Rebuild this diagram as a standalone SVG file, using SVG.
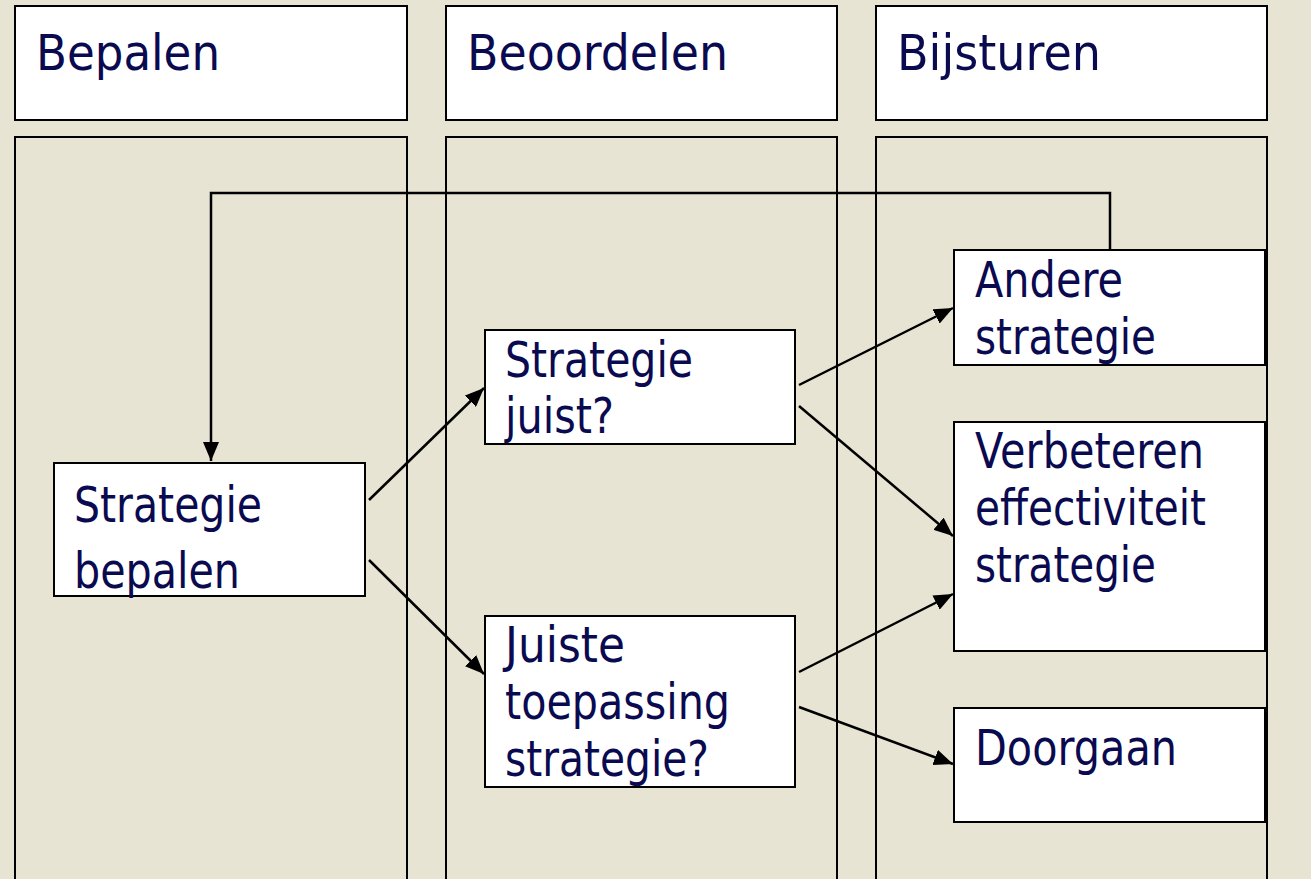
<svg xmlns="http://www.w3.org/2000/svg" width="1311" height="879" viewBox="0 0 1311 879">
<style>
.box{fill:#fff;stroke:#000;stroke-width:2}
.lane{fill:none;stroke:#000;stroke-width:2}
.t{font-family:"DejaVu Sans",Verdana,sans-serif;font-size:50px;fill:#0a0a50}
.c{fill:none;stroke:#000;stroke-width:2.5}
</style>
<defs>
<marker id="ah" markerUnits="userSpaceOnUse" markerWidth="20" markerHeight="16" refX="19" refY="8" orient="auto">
<path d="M0,0 L19,8 L0,16 Z" fill="#000"/>
</marker>
</defs>
<rect width="1311" height="879" fill="#e7e4d3"/>
<g id="lane-bepalen">
<rect class="box" x="15" y="6" width="392" height="114"/>
<text class="t" x="36" y="70" textLength="184" lengthAdjust="spacingAndGlyphs">Bepalen</text>
<rect class="lane" x="15" y="137" width="392" height="760"/>
</g>
<g id="lane-beoordelen">
<rect class="box" x="446" y="6" width="391" height="114"/>
<text class="t" x="467" y="70" textLength="261" lengthAdjust="spacingAndGlyphs">Beoordelen</text>
<rect class="lane" x="446" y="137" width="391" height="760"/>
</g>
<g id="lane-bijsturen">
<rect class="box" x="876" y="6" width="391" height="114"/>
<text class="t" x="897" y="70" textLength="204" lengthAdjust="spacingAndGlyphs">Bijsturen</text>
<rect class="lane" x="876" y="137" width="391" height="760"/>
</g>
<g id="connectors">
<path class="c" d="M1110,250 V193 H211 V461" marker-end="url(#ah)"/>
<line class="c" x1="369" y1="500" x2="484" y2="388" marker-end="url(#ah)"/>
<line class="c" x1="369" y1="560" x2="484" y2="674" marker-end="url(#ah)"/>
<line class="c" x1="799" y1="385" x2="953" y2="308" marker-end="url(#ah)"/>
<line class="c" x1="799" y1="406" x2="953" y2="536" marker-end="url(#ah)"/>
<line class="c" x1="799" y1="672" x2="953" y2="594" marker-end="url(#ah)"/>
<line class="c" x1="799" y1="707" x2="953" y2="764" marker-end="url(#ah)"/>
</g>
<g id="node-strategie-bepalen">
<rect class="box" x="54" y="463" width="311" height="133"/>
<text class="t" x="74" y="522" textLength="188" lengthAdjust="spacingAndGlyphs">Strategie</text>
<text class="t" x="74" y="588" textLength="166" lengthAdjust="spacingAndGlyphs">bepalen</text>
</g>
<g id="node-strategie-juist">
<rect class="box" x="485" y="330" width="310" height="114"/>
<text class="t" x="505" y="377" textLength="188" lengthAdjust="spacingAndGlyphs">Strategie</text>
<text class="t" x="505" y="433" textLength="109" lengthAdjust="spacingAndGlyphs">juist?</text>
</g>
<g id="node-juiste-toepassing">
<rect class="box" x="485" y="616" width="310" height="171"/>
<text class="t" x="505" y="662" textLength="120" lengthAdjust="spacingAndGlyphs">Juiste</text>
<text class="t" x="505" y="719" textLength="225" lengthAdjust="spacingAndGlyphs">toepassing</text>
<text class="t" x="505" y="776" textLength="204" lengthAdjust="spacingAndGlyphs">strategie?</text>
</g>
<g id="node-andere-strategie">
<rect class="box" x="954" y="250" width="311" height="115"/>
<text class="t" x="975" y="297" textLength="148" lengthAdjust="spacingAndGlyphs">Andere</text>
<text class="t" x="975" y="354" textLength="181" lengthAdjust="spacingAndGlyphs">strategie</text>
</g>
<g id="node-verbeteren">
<rect class="box" x="954" y="422" width="311" height="229"/>
<text class="t" x="975" y="468" textLength="229" lengthAdjust="spacingAndGlyphs">Verbeteren</text>
<text class="t" x="975" y="525" textLength="231" lengthAdjust="spacingAndGlyphs">effectiviteit</text>
<text class="t" x="975" y="582" textLength="181" lengthAdjust="spacingAndGlyphs">strategie</text>
</g>
<g id="node-doorgaan">
<rect class="box" x="954" y="708" width="311" height="114"/>
<text class="t" x="975" y="765" textLength="202" lengthAdjust="spacingAndGlyphs">Doorgaan</text>
</g>
</svg>
